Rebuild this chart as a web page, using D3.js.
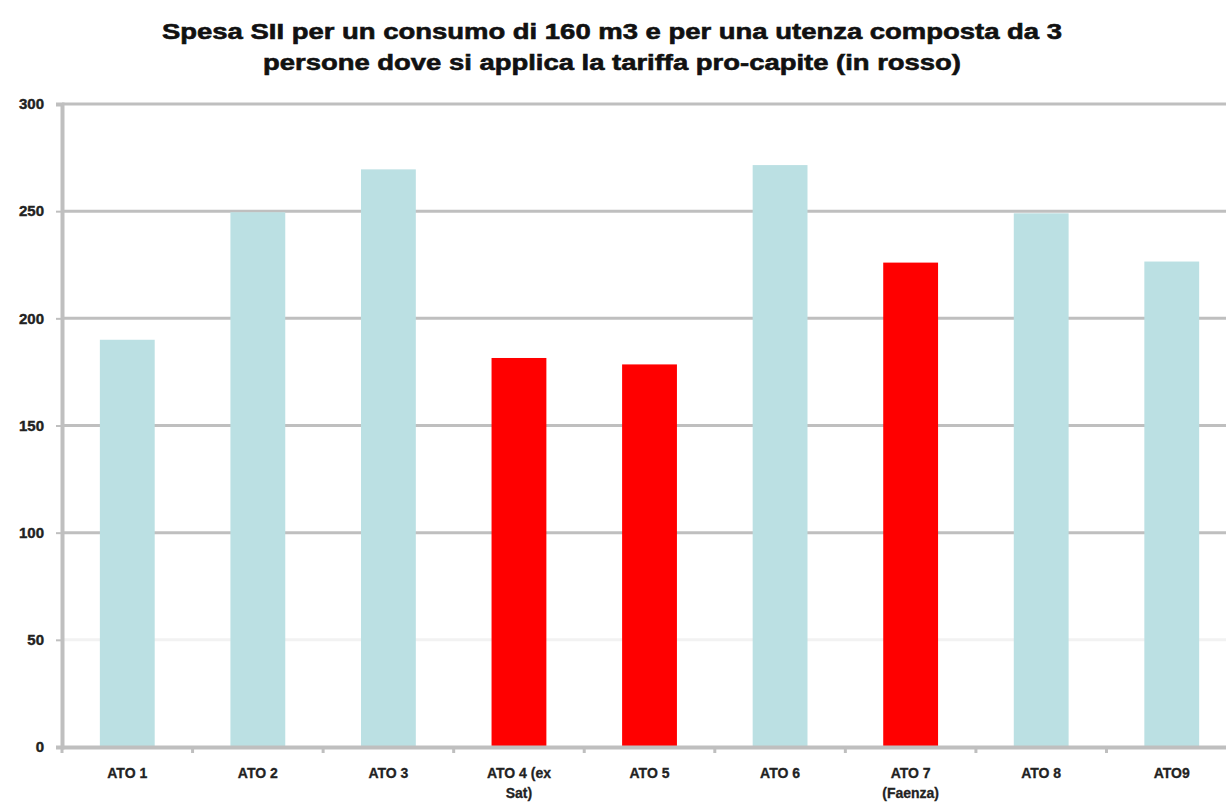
<!DOCTYPE html>
<html><head><meta charset="utf-8">
<script src="https://cdn.jsdelivr.net/npm/d3@7"></script>
<style>body{margin:0;background:#fff}svg{display:block}</style>
</head><body>
<script>
const categories = ["ATO 1","ATO 2","ATO 3","ATO 4 (ex Sat)","ATO 5","ATO 6","ATO 7 (Faenza)","ATO 8","ATO9"];
const labelLines = [["ATO 1"],["ATO 2"],["ATO 3"],["ATO 4 (ex","Sat)"],["ATO 5"],["ATO 6"],["ATO 7","(Faenza)"],["ATO 8"],["ATO9"]];
const values = [190, 249.5, 269.5, 181.5, 178.5, 271.5, 226, 249, 226.5];
const proCapite = [false,false,false,true,true,false,true,false,false];
const yTicks = [0,50,100,150,200,250,300];
const titleLines = ["Spesa SII per un consumo di 160 m3 e per una utenza composta da 3","persone dove si applica la tariffa pro-capite (in rosso)"];

const W = 1226, H = 805;
const svg = d3.select("body").append("svg").attr("width", W).attr("height", H);
const plotLeft = 62, plotTop = 104, plotBottom = 747, plotRight = 62 + 9*130.56;

const x = d3.scaleBand().domain(categories).range([plotLeft, plotRight]).padding(0);
const y = d3.scaleLinear().domain([0,300]).range([plotBottom, plotTop]);

// gridlines
svg.append("g").selectAll("line").data(yTicks.filter(d => d > 0)).join("line")
  .attr("x1", plotLeft).attr("x2", W).attr("y1", d => y(d)).attr("y2", d => y(d))
  .attr("stroke", d => d === 50 ? "#f2f2f2" : "#bfbfbf").attr("stroke-width", 3);

// bars
const bw = x.bandwidth()*0.42;
svg.append("g").selectAll("rect").data(categories).join("rect")
  .attr("x", d => x(d) + x.bandwidth()/2 - bw/2)
  .attr("width", bw)
  .attr("y", (d,i) => y(values[i]))
  .attr("height", (d,i) => plotBottom - y(values[i]))
  .attr("fill", (d,i) => proCapite[i] ? "#ff0000" : "#bbe0e3");

// y axis
const yAxis = d3.axisLeft(y).tickValues(yTicks).tickSize(6).tickPadding(12).tickFormat(d3.format("d"));
const gy = svg.append("g").attr("transform", `translate(${plotLeft},0)`).call(yAxis);
gy.select(".domain").attr("stroke", "#bfbfbf").attr("stroke-width", 4);
gy.selectAll(".tick line").attr("stroke", "#bfbfbf").attr("stroke-width", 2);
gy.selectAll(".tick text").attr("font-family", "Liberation Sans, Arial, sans-serif")
  .attr("font-weight", "bold").attr("font-size", 15).attr("fill", "#222")
  .attr("stroke", "#222").attr("stroke-width", 0.4);

// x axis
const xAxis = d3.axisBottom(x).tickSize(0).tickFormat("");
const gx = svg.append("g").attr("transform", `translate(0,${plotBottom})`).call(xAxis);
gx.select(".domain").attr("stroke", "#bfbfbf").attr("stroke-width", 4);
// boundary ticks
const bounds = categories.map(c => x(c));
svg.append("g").selectAll("line").data(bounds).join("line")
  .attr("x1", d => d).attr("x2", d => d).attr("y1", plotBottom).attr("y2", plotBottom + 6)
  .attr("stroke", "#bfbfbf").attr("stroke-width", 3);

// x labels
const xl = svg.append("g").selectAll("text").data(categories).join("text")
  .attr("x", d => x(d) + x.bandwidth()/2)
  .attr("y", 778)
  .attr("text-anchor", "middle")
  .attr("font-family", "Liberation Sans, Arial, sans-serif")
  .attr("font-weight", "bold").attr("font-size", 14).attr("fill", "#222")
  .attr("stroke", "#222").attr("stroke-width", 0.3);
xl.each(function(d,i){
  const t = d3.select(this);
  labelLines[i].forEach((ln, j) => {
    t.append("tspan").attr("x", x(d) + x.bandwidth()/2).attr("dy", j === 0 ? 0 : 20).text(ln);
  });
});

// title
svg.append("g").selectAll("text").data(titleLines).join("text")
  .attr("x", 612).attr("y", (d,i) => 39 + i*31)
  .attr("text-anchor", "middle")
  .attr("font-family", "Liberation Sans, Arial, sans-serif")
  .attr("font-weight", "bold").attr("font-size", 22).attr("fill", "#111")
  .attr("stroke", "#111").attr("stroke-width", 0.6)
  .attr("textLength", (d,i) => i === 0 ? 900 : 698)
  .attr("lengthAdjust", "spacingAndGlyphs")
  .text(d => d);
</script>
</body></html>
